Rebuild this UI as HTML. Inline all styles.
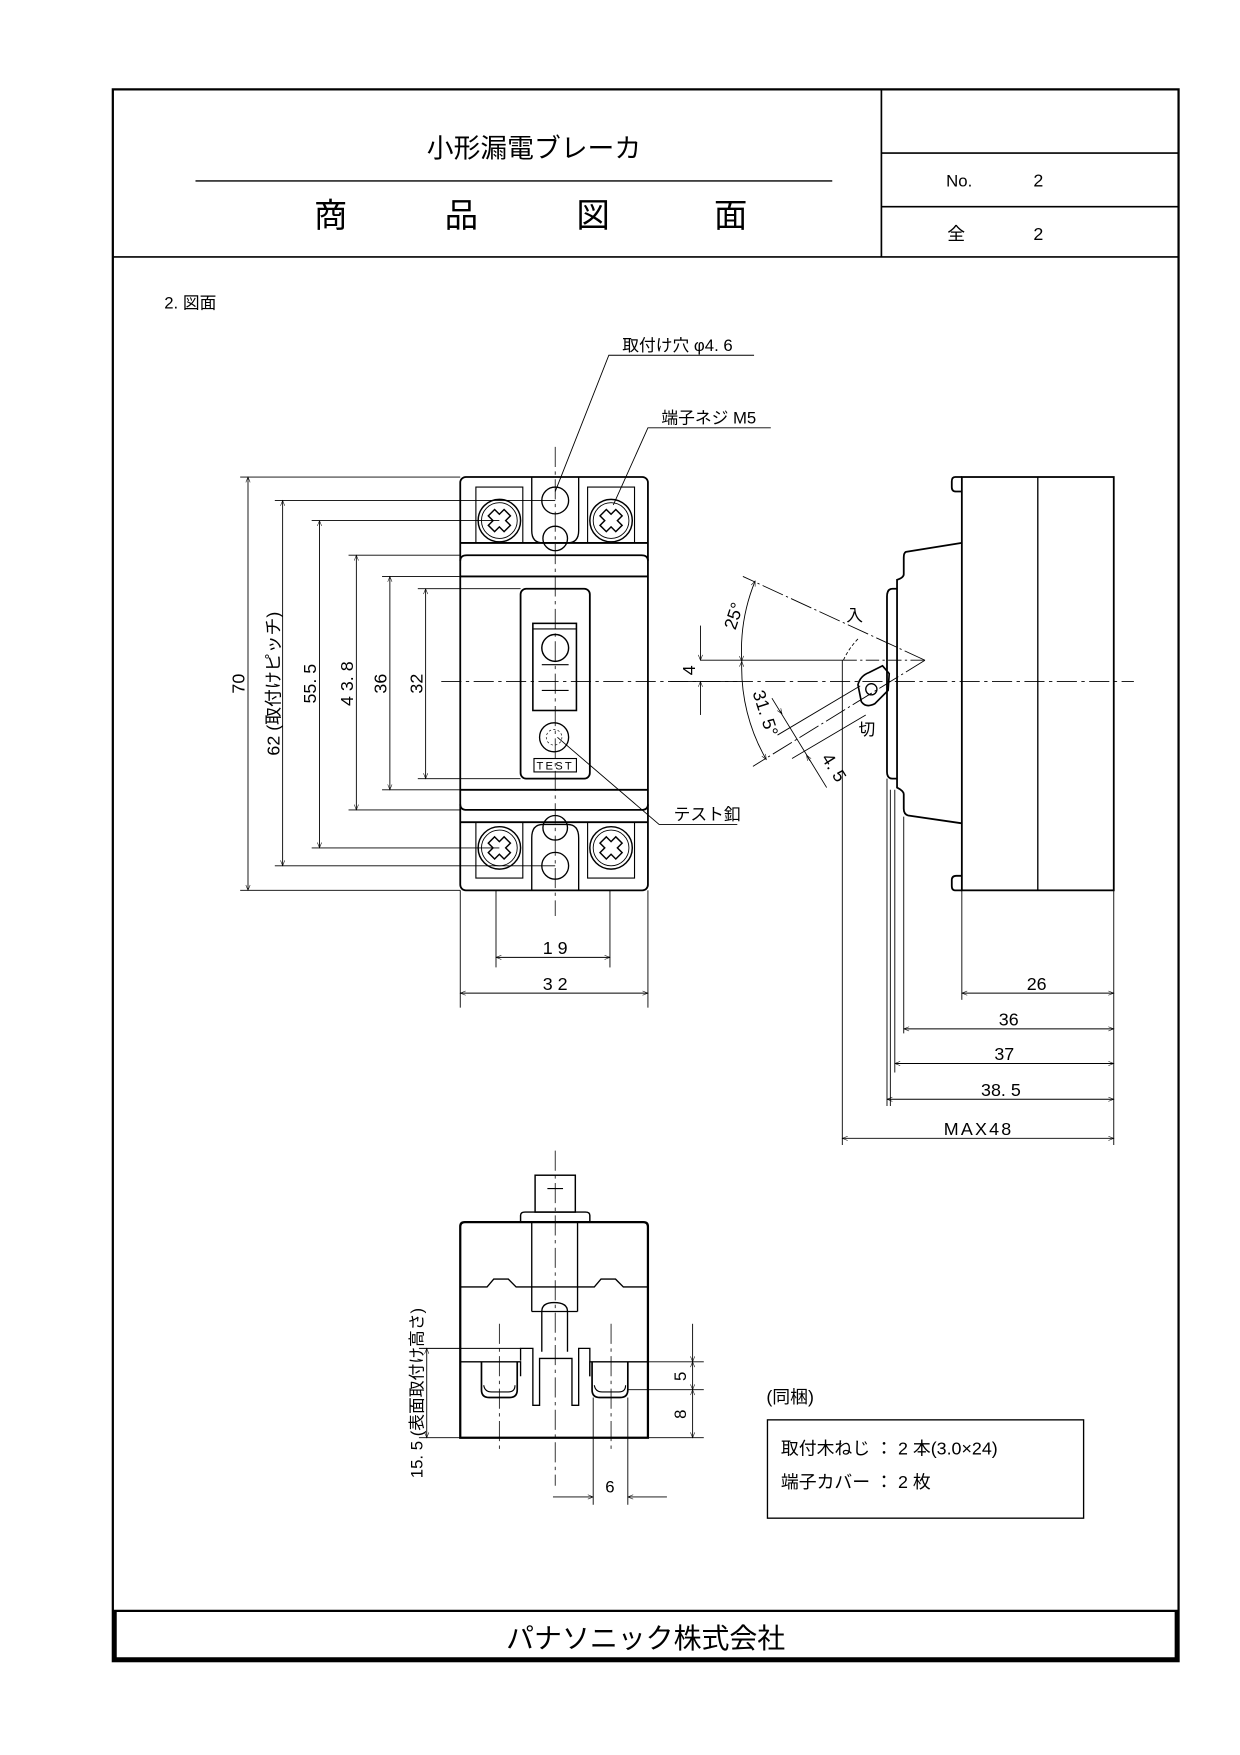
<!DOCTYPE html>
<html><head><meta charset="utf-8">
<style>
html,body{margin:0;padding:0;background:#fff;}
svg{display:block;}
text{font-family:"Liberation Sans","Noto Sans CJK JP",sans-serif;fill:#000;}
</style></head>
<body>
<svg width="1240" height="1755" viewBox="0 0 1110 1571" preserveAspectRatio="none" xmlns="http://www.w3.org/2000/svg">
<defs>
<marker id="a" viewBox="0 0 10 10" refX="10" refY="5" markerWidth="9" markerHeight="6" orient="auto-start-reverse"><path d="M0,1 L10,5 L0,9" fill="none" stroke="#000" stroke-width="1"/></marker>
</defs>
<g fill="none" stroke="#000">
<rect x="101" y="80" width="954" height="1407" stroke-width="2"/>
<line x1="101" y1="230" x2="1055" y2="230" stroke-width="1.5"/>
<line x1="789" y1="80" x2="789" y2="230" stroke-width="1.5"/>
<line x1="789" y1="137" x2="1055" y2="137" stroke-width="1.5"/>
<line x1="789" y1="185" x2="1055" y2="185" stroke-width="1.5"/>
<line x1="175" y1="162" x2="745" y2="162" stroke-width="1.2"/>
<line x1="101" y1="1442" x2="1055" y2="1442" stroke-width="2"/>
<line x1="103" y1="1442" x2="103" y2="1487" stroke-width="3"/>
<line x1="1053" y1="1442" x2="1053" y2="1487" stroke-width="3"/>
<line x1="101" y1="1485" x2="1055" y2="1485" stroke-width="3"/>
</g>
<text x="478" y="141" font-size="24" text-anchor="middle">小形漏電ブレーカ</text>
<text x="296" y="203" font-size="30" text-anchor="middle">商</text>
<text x="413" y="203" font-size="30" text-anchor="middle">品</text>
<text x="531" y="203" font-size="30" text-anchor="middle">図</text>
<text x="654" y="203" font-size="30" text-anchor="middle">面</text>
<text x="847" y="167" font-size="15">No.</text>
<text x="925" y="167" font-size="16">2</text>
<text x="848" y="215" font-size="16">全</text>
<text x="925" y="215" font-size="16">2</text>
<text x="578" y="1475" font-size="25" text-anchor="middle">パナソニック株式会社</text>
<text x="147" y="276" font-size="15">2. 図面</text>

<g stroke="#000" stroke-width="0.7" stroke-dasharray="18,4,3,4" fill="none">
<line x1="395" y1="610" x2="1015" y2="610"/>
<line x1="497" y1="400" x2="497" y2="820"/>
<line x1="497" y1="1030" x2="497" y2="1330"/>
<line x1="447" y1="1185" x2="447" y2="1300"/>
<line x1="547" y1="1185" x2="547" y2="1300"/>
</g>

<g fill="none" stroke="#000" stroke-width="1.6">
<rect x="412" y="427" width="168" height="370" rx="5"/>
<line x1="412" y1="486" x2="580" y2="486"/>
<path d="M412,502 Q412,497 418,497 L574,497 Q580,497 580,502"/>
<line x1="412" y1="516" x2="580" y2="516"/>
<line x1="412" y1="707" x2="580" y2="707"/>
<path d="M412,720 Q412,725 418,725 L574,725 Q580,725 580,720"/>
<line x1="412" y1="736" x2="580" y2="736"/>
<rect x="466" y="527" width="62" height="170" rx="5"/>
<rect x="477" y="558" width="39" height="78" stroke-width="1.4"/>
<line x1="477" y1="563" x2="516" y2="563" stroke-width="1"/>
<circle cx="497" cy="580" r="12" stroke-width="1.3"/>
<line x1="485" y1="595" x2="509" y2="595" stroke-width="1"/>
<line x1="485" y1="618" x2="509" y2="618" stroke-width="1"/>
<circle cx="496" cy="660" r="13" stroke-width="1.2"/>
<circle cx="496" cy="660" r="7" stroke-width="0.6" stroke-dasharray="2,2"/>
<rect x="478" y="679" width="38" height="12" stroke-width="1"/>
<rect x="426" y="436" width="42" height="50" stroke-width="1"/>
<rect x="526" y="436" width="42" height="50" stroke-width="1"/>
<rect x="426" y="736" width="42" height="50" stroke-width="1"/>
<rect x="526" y="736" width="42" height="50" stroke-width="1"/>
<path d="M476,427 L476,475 Q476,486 486,486 L508,486 Q518,486 518,475 L518,427" stroke-width="1.2"/>
<path d="M476,797 L476,750 Q476,738 486,738 L508,738 Q518,738 518,750 L518,797" stroke-width="1.2"/>
<circle cx="497" cy="448" r="12" stroke-width="1.2"/>
<circle cx="497" cy="482" r="11" stroke-width="1.2"/>
<circle cx="497" cy="741" r="11" stroke-width="1.2"/>
<circle cx="497" cy="775" r="12" stroke-width="1.2"/>
</g>
<g fill="none" stroke="#000" stroke-width="1.3">
<g transform="translate(447,466)"><circle r="19"/><circle r="16" stroke-width="0.8"/><path d="M-10,-4 L-4,-4 L-4,-10 L4,-10 L4,-4 L10,-4 L10,4 L4,4 L4,10 L-4,10 L-4,4 L-10,4 Z" transform="rotate(45)"/></g>
<g transform="translate(547,466)"><circle r="19"/><circle r="16" stroke-width="0.8"/><path d="M-10,-4 L-4,-4 L-4,-10 L4,-10 L4,-4 L10,-4 L10,4 L4,4 L4,10 L-4,10 L-4,4 L-10,4 Z" transform="rotate(45)"/></g>
<g transform="translate(447,759)"><circle r="19"/><circle r="16" stroke-width="0.8"/><path d="M-10,-4 L-4,-4 L-4,-10 L4,-10 L4,-4 L10,-4 L10,4 L4,4 L4,10 L-4,10 L-4,4 L-10,4 Z" transform="rotate(45)"/></g>
<g transform="translate(547,759)"><circle r="19"/><circle r="16" stroke-width="0.8"/><path d="M-10,-4 L-4,-4 L-4,-10 L4,-10 L4,-4 L10,-4 L10,4 L4,4 L4,10 L-4,10 L-4,4 L-10,4 Z" transform="rotate(45)"/></g>
</g>

<g stroke="#000" stroke-width="0.8" fill="none">
<line x1="215" y1="427" x2="412" y2="427"/><line x1="215" y1="797" x2="412" y2="797"/>
<line x1="246" y1="448" x2="497" y2="448"/><line x1="246" y1="775" x2="497" y2="775"/>
<line x1="279" y1="466" x2="447" y2="466"/><line x1="279" y1="759" x2="447" y2="759"/>
<line x1="312" y1="497" x2="412" y2="497"/><line x1="312" y1="725" x2="412" y2="725"/>
<line x1="342" y1="516" x2="412" y2="516"/><line x1="342" y1="707" x2="412" y2="707"/>
<line x1="374" y1="527" x2="466" y2="527"/><line x1="374" y1="697" x2="466" y2="697"/>
<g marker-start="url(#a)" marker-end="url(#a)">
<line x1="222" y1="427" x2="222" y2="797"/>
<line x1="253" y1="448" x2="253" y2="775"/>
<line x1="286" y1="466" x2="286" y2="759"/>
<line x1="319" y1="497" x2="319" y2="725"/>
<line x1="349" y1="516" x2="349" y2="707"/>
<line x1="381" y1="527" x2="381" y2="697"/>
<line x1="444" y1="857" x2="546" y2="857"/>
<line x1="412" y1="889" x2="580" y2="889"/>
</g>
<line x1="412" y1="797" x2="412" y2="902"/><line x1="580" y1="797" x2="580" y2="902"/>
<line x1="444" y1="797" x2="444" y2="866"/><line x1="546" y1="797" x2="546" y2="866"/>
<polyline points="675,318 545,318 497,440"/>
<polyline points="690,383 580,383 549,452"/>
<polyline points="660,738 590,738 499,660"/>
</g>
<g font-size="16">
<text transform="translate(219,612) rotate(-90)" text-anchor="middle">70</text>
<text transform="translate(250,612) rotate(-90)" text-anchor="middle">62 (取付けピッチ)</text>
<text transform="translate(283,612) rotate(-90)" text-anchor="middle">55. 5</text>
<text transform="translate(316,612) rotate(-90)" text-anchor="middle">4 3. 8</text>
<text transform="translate(346,612) rotate(-90)" text-anchor="middle">36</text>
<text transform="translate(378,612) rotate(-90)" text-anchor="middle">32</text>
<text x="497" y="854" text-anchor="middle">1 9</text>
<text x="497" y="886" text-anchor="middle">3 2</text>
<text x="557" y="314" font-size="15">取付け穴 φ4. 6</text>
<text x="592" y="379" font-size="15">端子ネジ M5</text>
<text x="603" y="734" font-size="15">テスト釦</text>
<text x="497" y="689" font-size="10" text-anchor="middle" letter-spacing="2">TEST</text>
</g>

<g fill="none" stroke="#000" stroke-width="1.6">
<rect x="861" y="427" width="136" height="370"/>
<line x1="929" y1="427" x2="929" y2="797" stroke-width="1.2"/>
<path d="M861,427 L855,427 Q852,427 852,431 L852,436 Q852,440 856,440 L861,440"/>
<path d="M861,797 L855,797 Q852,797 852,793 L852,788 Q852,784 856,784 L861,784"/>
<path d="M861,486 L811,494 Q809,495 809,499 L809,514 Q809,517 803,519 L803,705 Q809,708 809,711 L809,724 Q809,729 813,730 L861,737"/>
<path d="M803,527 L799,527 Q794,527 794,534 L794,691 Q794,697 799,697 L803,697"/>
<line x1="797" y1="707" x2="797" y2="990" stroke-width="0.8"/>
<line x1="801" y1="707" x2="801" y2="960" stroke-width="0.8"/>
<line x1="809" y1="731" x2="809" y2="925" stroke-width="0.8"/>
<line x1="861" y1="797" x2="861" y2="895" stroke-width="0.8"/>
<line x1="997" y1="797" x2="997" y2="1025" stroke-width="0.8"/>
<path d="M768,613 Q770,605 778,602 L790,596 L796,603 L795,618 L783,630 Q775,634 771,628 Z" stroke-width="1.5"/>
<circle cx="780" cy="617" r="5" stroke-width="1.2"/>
</g>
<g fill="none" stroke="#000" stroke-width="0.8">
<line x1="627" y1="591" x2="755" y2="591"/>
<line x1="755" y1="591" x2="828" y2="591" stroke-dasharray="12,3,2,3"/>
<line x1="828" y1="591" x2="665" y2="516" stroke-dasharray="20,3,2,3"/>
<line x1="828" y1="591" x2="674" y2="686" stroke-dasharray="20,3,2,3"/>
<path d="M676,520 A165,165 0 0 0 664,592" marker-start="url(#a)" marker-end="url(#a)"/>
<path d="M664,592 A165,165 0 0 0 686,680" marker-start="url(#a)" marker-end="url(#a)"/>
<path d="M768,572 A65,65 0 0 0 755,591" stroke-dasharray="3,2"/>
<line x1="754" y1="591" x2="754" y2="1025"/>
<line x1="627" y1="560" x2="627" y2="591" marker-end="url(#a)"/>
<line x1="627" y1="640" x2="627" y2="610" marker-end="url(#a)"/>
<line x1="600" y1="610" x2="660" y2="610"/>
<line x1="696" y1="658" x2="770" y2="614"/>
<line x1="709" y1="679" x2="775" y2="640"/>
<line x1="691" y1="625" x2="740" y2="705"/>
<line x1="698" y1="636" x2="700" y2="639" marker-end="url(#a)"/>
<line x1="725" y1="681" x2="722" y2="676" marker-end="url(#a)"/>
<g marker-start="url(#a)" marker-end="url(#a)">
<line x1="861" y1="889" x2="997" y2="889"/>
<line x1="809" y1="921" x2="997" y2="921"/>
<line x1="801" y1="952" x2="997" y2="952"/>
<line x1="794" y1="984" x2="997" y2="984"/>
<line x1="754" y1="1019" x2="997" y2="1019"/>
</g>
<line x1="794" y1="697" x2="794" y2="990"/>
</g>
<g font-size="16">
<text transform="translate(622,600) rotate(-90)" text-anchor="middle">4</text>
<text transform="translate(662,553) rotate(-72)" text-anchor="middle">25°</text>
<text transform="translate(680,640) rotate(72)" text-anchor="middle">31. 5°</text>
<text transform="translate(742,690) rotate(58)" text-anchor="middle">4. 5</text>
<text x="765" y="556" font-size="15" text-anchor="middle">入</text>
<text x="776" y="658" font-size="15" text-anchor="middle">切</text>
<text x="928" y="886" text-anchor="middle">26</text>
<text x="903" y="918" text-anchor="middle">36</text>
<text x="899" y="949" text-anchor="middle">37</text>
<text x="896" y="981" text-anchor="middle">38. 5</text>
<text x="876" y="1016" text-anchor="middle" letter-spacing="2">MAX48</text>
</g>

<g fill="none" stroke="#000" stroke-width="1.6">
<rect x="479" y="1052" width="36" height="33" stroke-width="1.3"/>
<line x1="490" y1="1064" x2="504" y2="1064" stroke-width="1"/>
<path d="M466,1094 L466,1088 Q466,1085 470,1085 L524,1085 Q528,1085 528,1088 L528,1094" stroke-width="1.3"/>
<path d="M412,1287 L412,1098 Q412,1094 416,1094 L576,1094 Q580,1094 580,1098 L580,1287 Z" stroke-width="2"/>
<line x1="476" y1="1094" x2="476" y2="1174" stroke-width="1.2"/>
<line x1="517" y1="1094" x2="517" y2="1174" stroke-width="1.2"/>
<path d="M412,1152 L436,1152 L442,1145 L455,1145 L462,1152 L476,1152" stroke-width="1.2"/>
<path d="M517,1152 L532,1152 L538,1145 L551,1145 L558,1152 L580,1152" stroke-width="1.2"/>
<line x1="476" y1="1152" x2="517" y2="1152" stroke-width="1.2"/>
<line x1="476" y1="1174" x2="517" y2="1174" stroke-width="1.2"/>
<path d="M485,1174 L485,1210 M508,1174 L508,1210 M485,1174 Q485,1166 496,1166 Q508,1166 508,1174" stroke-width="1.2"/>
<path d="M412,1219 L466,1219 L466,1232 M528,1232 L528,1219 L580,1219" stroke-width="1.2"/>
<path d="M466,1218 L466,1207 L477,1207 L477,1258 L483,1258 L483,1216 L512,1216 L512,1258 L518,1258 L518,1207 L528,1207 L528,1232" stroke-width="1.2"/>
<path d="M431,1219 L431,1244 Q431,1251 438,1251 L456,1251 Q463,1251 463,1244 L463,1219" stroke-width="1.5"/>
<path d="M433,1240 Q434,1246 440,1246 L455,1246 Q461,1246 461,1240" stroke-width="1"/>
<path d="M530,1219 L530,1244 Q530,1251 537,1251 L555,1251 Q562,1251 562,1244 L562,1219" stroke-width="1.5"/>
<path d="M532,1240 Q533,1246 539,1246 L554,1246 Q560,1246 560,1240" stroke-width="1"/>
</g>
<g fill="none" stroke="#000" stroke-width="0.8">
<line x1="375" y1="1207" x2="466" y2="1207"/>
<line x1="375" y1="1287" x2="412" y2="1287"/>
<line x1="580" y1="1219" x2="630" y2="1219"/>
<line x1="562" y1="1244" x2="630" y2="1244"/>
<line x1="580" y1="1287" x2="630" y2="1287"/>
<line x1="531" y1="1251" x2="531" y2="1347"/>
<line x1="562" y1="1251" x2="562" y2="1347"/>
<line x1="382" y1="1207" x2="382" y2="1287" marker-start="url(#a)" marker-end="url(#a)"/>
<line x1="620" y1="1185" x2="620" y2="1219" marker-end="url(#a)"/>
<line x1="620" y1="1219" x2="620" y2="1244" marker-start="url(#a)" marker-end="url(#a)"/>
<line x1="620" y1="1244" x2="620" y2="1287" marker-start="url(#a)" marker-end="url(#a)"/>
<line x1="495" y1="1340" x2="531" y2="1340" marker-end="url(#a)"/>
<line x1="597" y1="1340" x2="562" y2="1340" marker-end="url(#a)"/>
</g>
<g font-size="15">
<text transform="translate(378,1247) rotate(-90)" text-anchor="middle">15. 5 (表面取付け高さ)</text>
<text transform="translate(614,1232) rotate(-90)" text-anchor="middle">5</text>
<text transform="translate(614,1266) rotate(-90)" text-anchor="middle">8</text>
<text x="546" y="1336" text-anchor="middle">6</text>
</g>

<text x="686" y="1256" font-size="16">(同梱)</text>
<rect x="687" y="1271" width="283" height="88" fill="none" stroke="#000" stroke-width="1.2"/>
<text x="699" y="1302" font-size="16">取付木ねじ ： 2 本(3.0×24)</text>
<text x="699" y="1332" font-size="16">端子カバー ： 2 枚</text>
</svg>
</body></html>
